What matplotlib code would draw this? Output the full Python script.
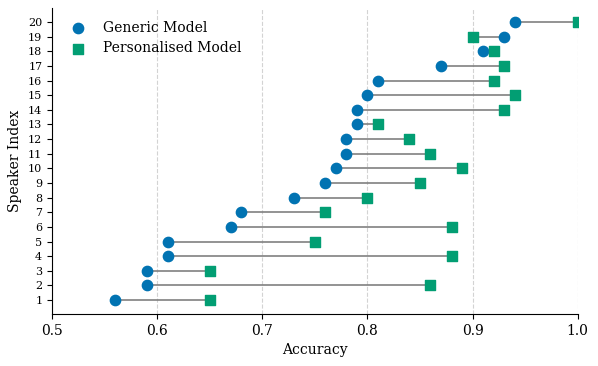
import matplotlib
matplotlib.use('Agg')
import matplotlib.pyplot as plt

speakers = list(range(1, 21))
generic = [0.56, 0.59, 0.59, 0.61, 0.61, 0.67, 0.68, 0.73, 0.76, 0.77,
           0.78, 0.78, 0.79, 0.79, 0.80, 0.81, 0.87, 0.91, 0.93, 0.94]
personal = [0.65, 0.86, 0.65, 0.88, 0.75, 0.88, 0.76, 0.80, 0.85, 0.89,
            0.86, 0.84, 0.81, 0.93, 0.94, 0.92, 0.93, 0.92, 0.90, 1.00]

plt.rcParams['font.family'] = 'DejaVu Serif'

fig, ax = plt.subplots(figsize=(5.98, 3.66), dpi=100)
ax.hlines(speakers, generic, personal, color='grey', lw=1.2, zorder=1)
ax.scatter(generic, speakers, color='#0173B2', s=55, marker='o', label='Generic Model', zorder=3)
ax.scatter(personal, speakers, color='#029E73', s=45, marker='s', label='Personalised Model', zorder=3)

ax.set_xlim(0.5, 1.0)
ax.set_yticks(speakers)
ax.tick_params(axis='y', labelsize=8)
ax.tick_params(axis='x', labelsize=10)
ax.set_xlabel('Accuracy')
ax.set_ylabel('Speaker Index')
ax.xaxis.grid(True, linestyle='--', color='lightgrey', lw=0.8)
ax.set_axisbelow(True)
ax.spines['top'].set_visible(False)
ax.spines['right'].set_visible(False)
ax.legend(loc='upper left', frameon=False, fontsize=10)

fig.subplots_adjust(left=0.087, right=0.966, bottom=0.142, top=0.978)
fig.savefig('out.png')
